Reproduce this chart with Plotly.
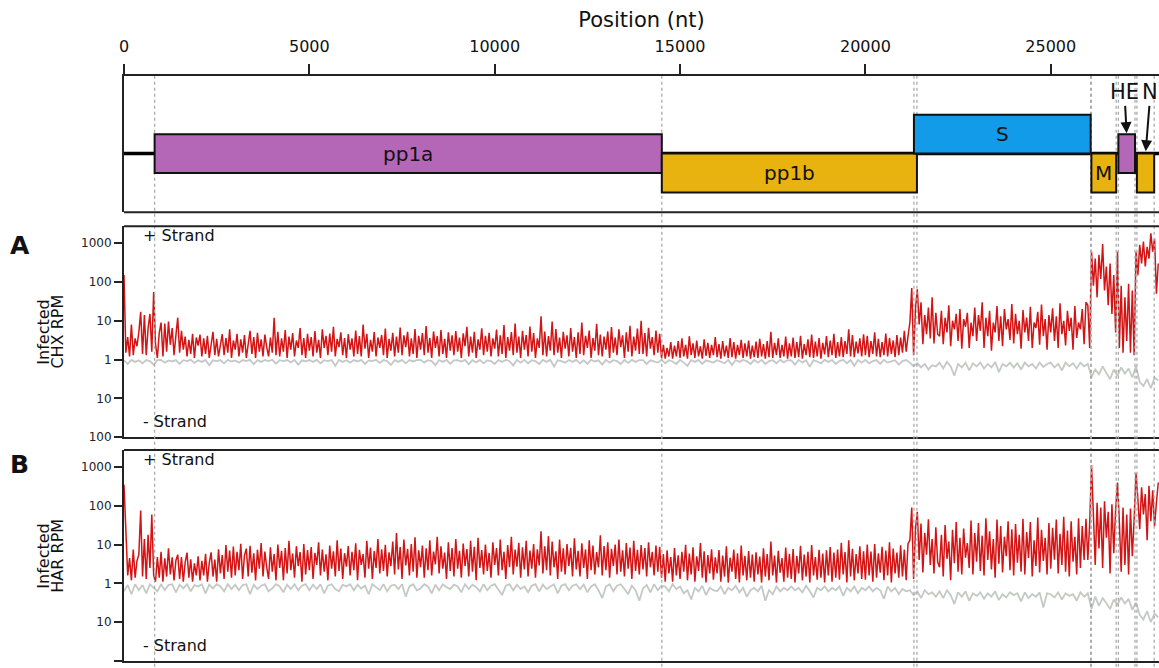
import numpy as np
import plotly.graph_objects as go

# ---------------- data ----------------
x_max = 27920            # visible genome range (nt)
bin_red = 50             # nt per + strand sample
bin_grey = 100           # nt per - strand sample

gene_names = ["pp1a", "pp1b", "S", "M", "HE", "N"]
gene_start = [826, 14508, 21309, 26096, 26824, 27324]
gene_end = [14508, 21390, 26077, 26765, 27272, 27790]
gene_colors = ["#b567b7", "#e9b30f", "#129be9", "#e9b30f", "#b567b7", "#e9b30f"]

pos_ticks = [0, 5000, 10000, 15000, 20000, 25000]
pos_ticktext = ["0", "5000", "10000", "15000", "20000", "25000"]
rpm_tickvals = [3, 2, 1, 0, -1, -2]
rpm_ticktext = ["1000", "100", "10", "1", "10", "100"]

# Panel A: Infected CHX, + strand RPM (50 nt bins)
chx_plus = [
    150, 1.5, 3.8, 1.2, 8, 1.3, 3.5, 2.2, 5, 17, 1.4, 14, 1.3, 6.5, 15, 1.6, 55, 2.5, 1.1, 4.8,
    9, 1.2, 8.5, 1.6, 9.5, 2.4, 6.5, 1.3, 4.2, 12, 1.5, 5.5, 1.8, 3.9, 1.2, 3.2, 1.4, 4.6, 1.1, 3.7,
    2.3, 4.4, 1.2, 3.5, 1.4, 4.1, 1.1, 2.8, 5.2, 1.3, 3.4, 1.2, 2.6, 4.5, 1.3, 3.6, 1.5, 6, 1.1, 3.1,
    1.8, 4.6, 1.2, 3.3, 1.5, 4.3, 1.1, 2.7, 5.5, 1.4, 3.8, 1.1, 4.9, 1.6, 3.3, 1.2, 4.4, 2.1, 1.2, 3.7,
    1.5, 12, 1.3, 5.2, 1.2, 3.5, 1.6, 5.8, 1.1, 3.9, 1.8, 4.8, 1.2, 3.1, 2, 6.5, 1.3, 3.6, 1.1, 4.6,
    1.7, 3.8, 1.2, 5.4, 1.5, 3.2, 1.1, 6, 2, 4.1, 1.3, 4.7, 1.6, 7, 1.2, 3.4, 2.1, 5, 1.3, 3.6,
    1.1, 4.5, 1.8, 3.5, 1.2, 5.6, 1.4, 4, 1.2, 8, 1.9, 4.6, 1.1, 3.2, 1.6, 5.1, 1.2, 3.7, 2, 4.3,
    1.3, 6.3, 1.1, 3.4, 1.7, 4.9, 1.2, 3.9, 1.5, 6.7, 1.3, 4.2, 2.1, 5.2, 1.2, 3.5, 1.4, 6.1, 1.1, 4.1,
    1.8, 4.8, 1.3, 7.3, 1.5, 3.6, 1.1, 5.3, 2, 4, 1.2, 5.8, 1.4, 3.4, 1.1, 5, 1.7, 4.2, 1.3, 5.4,
    1.6, 3.7, 1.1, 4.7, 2.2, 7, 1.2, 3.9, 1.5, 5.2, 1.1, 3.3, 1.8, 6.4, 1.3, 4.1, 1.6, 4.9, 1.2, 3.5,
    1.9, 5.9, 1.2, 4.2, 1.4, 7.8, 1.1, 3.8, 1.7, 5.1, 1.3, 8.5, 1.5, 3.9, 1.1, 5.5, 1.8, 4.3, 1.2, 7.1,
    1.6, 4.8, 1.1, 3.5, 2, 13, 1.3, 5.3, 1.2, 4, 1.7, 9.5, 1.3, 6.1, 1.5, 3.7, 1.1, 5.2, 1.9, 4.2,
    1.2, 6.5, 1.6, 3.8, 1.1, 5, 1.4, 9, 1.3, 4.1, 2, 5.6, 1.1, 3.6, 1.7, 8.3, 1.3, 4.4, 1.2, 3.9,
    1.8, 5.3, 1.1, 6.9, 1.5, 3.7, 1.3, 6, 2.1, 4.2, 1.1, 5, 1.6, 7.4, 1.2, 3.9, 1.7, 6.3, 1.4, 10,
    1.4, 4.8, 1.2, 6.6, 1.9, 3.8, 1.3, 5.6, 1.5, 4.6, 1.1, 2.4, 1.05, 2, 1.2, 2.8, 1.05, 2.3, 1.2, 3,
    1.1, 3.5, 1.2, 2.4, 1.05, 4, 1.3, 2.6, 1.1, 3.1, 1.2, 2.2, 1.05, 3.3, 1.25, 2.7, 1.1, 2.4, 1.3, 3.8,
    1.15, 2.5, 1.05, 3, 1.2, 2.3, 1.1, 3.6, 1.15, 2.8, 1.05, 2.4, 1.3, 3.2, 1.1, 2.6, 1.2, 3.1, 1.05, 2.3,
    1.15, 2.9, 1.1, 3.4, 1.2, 2.5, 1.05, 3, 1.15, 5.2, 1.1, 2.7, 1.3, 3.5, 1.1, 2.4, 1.2, 3.9, 1.05, 2.6,
    1.2, 3.7, 1.1, 2.8, 1.15, 4.1, 1.05, 2.5, 1.3, 3.3, 1.15, 4.4, 1.1, 2.9, 1.2, 3.6, 1.05, 2.7, 1.35, 4,
    1.15, 3.1, 1.3, 4.6, 1.1, 2.8, 1.2, 3.8, 1.15, 3, 1.4, 6, 1.2, 4.3, 1.15, 2.9, 1.45, 3.5, 1.2, 4.5,
    1.3, 4.1, 1.15, 3, 1.4, 5, 1.2, 3.4, 1.15, 2.8, 1.3, 4.7, 1.2, 3.6, 1.4, 3.1, 1.15, 4.3, 1.3, 3.7,
    1.5, 5.5, 1.6, 4, 9, 70, 1.3, 20, 65, 8, 30, 2.5, 14, 4.5, 22, 3.5, 40, 2.6, 16, 4.5,
    4, 18, 2.5, 12, 5, 25, 2.2, 10, 6, 15, 3, 20, 1.9, 11, 7, 16, 2, 9, 4, 22,
    3, 14, 5.5, 30, 2, 12, 4, 18, 1.7, 9, 5, 24, 3, 13, 2.2, 20, 6, 11, 3.2, 27,
    2.6, 15, 4.5, 10, 1.9, 19, 5, 12, 3, 23, 2, 9, 6.5, 17, 2.4, 26, 4, 11, 1.8, 14,
    5, 21, 3, 13, 2, 28, 4.5, 10, 2.3, 18, 5.5, 12, 1.8, 24, 3.6, 9, 6, 20, 2.5, 30,
    25, 2, 600, 80, 400, 40, 500, 120, 950, 60, 250, 25, 300, 15, 150, 5, 600, 2, 80, 1.5,
    40, 3, 90, 1.5, 60, 1.3, 600, 150, 900, 300, 1100, 250, 800, 400, 1800, 600, 1300, 50, 300,
]

# Panel A: Infected CHX, - strand RPM (100 nt bins)
chx_minus = [
    1.05, 1.3, 1.02, 1.15, 1.04, 1.25, 1.03, 1.1, 1.35, 1.04,
    1.02, 1.2, 1.05, 1.12, 1.03, 1.3, 1.04, 1.1, 1.02, 1.22,
    1.04, 1.15, 1.02, 1.4, 1.05, 1.1, 1.03, 1.25, 1.02, 1.12,
    1.05, 1.2, 1.03, 1.1, 1.02, 1.32, 1.04, 1.15, 1.03, 1.1,
    1.02, 1.28, 1.04, 1.1, 1.03, 1.18, 1.02, 1.35, 1.05, 1.12,
    1.03, 1.15, 1.02, 1.25, 1.04, 1.1, 1.03, 1.45, 1.02, 1.15,
    1.04, 1.2, 1.03, 1.12, 1.02, 1.3, 1.05, 1.1, 1.02, 1.22,
    1.03, 1.1, 1.38, 1.04, 1.15, 1.02, 1.25, 1.03, 1.12, 1.04,
    1.02, 1.2, 1.04, 1.1, 1.4, 1.03, 1.15, 1.02, 1.28, 1.05,
    1.03, 1.12, 1.02, 1.33, 1.04, 1.18, 1.02, 1.25, 1.05, 1.1,
    1.3, 1.03, 1.15, 1.02, 1.1, 1.42, 1.03, 1.2, 1.02, 1.25,
    1.04, 1.1, 1.3, 1.02, 1.15, 1.03, 1.5, 1.05, 1.1, 1.2,
    1.03, 1.15, 1.02, 1.25, 1.04, 1.3, 1.02, 1.12, 1.05, 1.35,
    1.02, 1.2, 1.04, 1.1, 1.3, 1.03, 1.22, 1.02, 1.15, 1.04,
    1.03, 1.3, 1.05, 1.1, 1.2, 1.02, 1.25, 1.04, 1.12, 1.3,
    1.02, 1.2, 1.45, 1.03, 1.15, 1.02, 1.3, 1.05, 1.1, 1.2,
    1.04, 1.12, 1.25, 1.02, 1.38, 1.03, 1.15, 1.02, 1.1, 1.3,
    1.03, 1.2, 1.02, 1.3, 1.1, 1.04, 1.25, 1.02, 1.18, 1.03,
    1.05, 1.35, 1.02, 1.2, 1.04, 1.55, 1.03, 1.12, 1.25, 1.02,
    1.15, 1.03, 1.3, 1.1, 1.02, 1.25, 1.04, 1.45, 1.03, 1.2,
    1.02, 1.25, 1.1, 1.03, 1.3, 1.02, 1.2, 1.12, 1.04, 1.35,
    1.1, 1.03, 1.2, 1.5, 1.25, 1.6, 1.3, 1.8, 1.4, 1.5,
    1.2, 1.7, 1.15, 1.5, 2.6, 1.3, 1.6, 1.2, 1.9, 1.25,
    1.5, 1.2, 1.7, 1.3, 1.6, 1.15, 2.1, 1.3, 1.5, 1.2,
    1.6, 1.25, 1.8, 1.2, 1.5, 1.3, 1.7, 1.2, 1.55, 1.3,
    1.2, 1.6, 1.3, 1.9, 1.2, 1.5, 1.25, 1.7, 1.2, 1.5,
    1.3, 2.8, 1.8, 2.4, 1.5, 2.2, 3.2, 1.8, 2.6, 1.6,
    2.3, 1.7, 2.9, 1.5, 3.8, 4.8, 3.2, 5.5, 2.9, 3.5,
]

# Panel B: Infected HAR, + strand RPM (50 nt bins)
har_plus = [
    350, 23, 1.6, 4.5, 1.2, 7.5, 1.4, 3.8, 5.5, 75, 1.5, 14, 1.3, 18, 2.5, 60, 1.6, 1.1, 4.8, 1.4,
    6.5, 1.1, 4.4, 1.5, 8, 1.7, 4.7, 1.2, 3.9, 5.5, 1.3, 4.8, 1.1, 3.5, 6.2, 1.4, 4.2, 1.1, 3.3, 1.6,
    5, 1.2, 3.8, 1.6, 5.8, 1.1, 3.4, 6.3, 1.5, 4.1, 1.1, 7.6, 1.8, 5.4, 1.3, 9.8, 2, 7, 1.4, 8.9,
    1.6, 6.5, 2.2, 10.5, 1.3, 5.3, 7.9, 1.5, 9.3, 1.9, 6, 1.2, 7.4, 2.4, 11, 1.5, 6.6, 2.6, 1.3, 8.5,
    2, 5.7, 1.2, 10, 2.5, 6.9, 1.2, 8.1, 1.8, 12.5, 2.2, 5.9, 1.4, 9.1, 2.8, 6.4, 1.1, 10.3, 1.7, 7.2,
    2.2, 8.7, 1.3, 6.1, 3, 11.5, 1.6, 7.5, 2, 5.6, 1.2, 9.5, 2.4, 6.7, 1.5, 13, 2.1, 7.9, 1.3, 6,
    2.7, 9.2, 1.6, 6.5, 2.2, 10.8, 1.2, 7.3, 3, 5.7, 1.4, 12.5, 2.4, 8.4, 1.3, 6.8, 2.5, 14, 1.8, 7.6,
    2.1, 9.9, 1.5, 6.3, 2.8, 12, 1.7, 20, 2.3, 8.6, 1.3, 13.5, 2.9, 7.8, 1.6, 10.4, 2, 15.5, 1.4, 7.1,
    2.6, 9.4, 1.4, 8, 2.2, 13, 1.6, 6.6, 3.1, 16, 1.8, 9, 2.4, 6.2, 1.3, 11.5, 2.1, 8.2, 1.5, 14,
    2.4, 6.9, 1.4, 10.6, 2.8, 7.7, 1.5, 12.5, 2, 8.8, 1.2, 15, 2.5, 7.2, 1.7, 10, 2.1, 6.1, 1.4, 11.5,
    3, 8.1, 1.6, 13.5, 2.2, 6.5, 1.3, 9.8, 2.6, 16, 1.7, 7.4, 2.7, 11.2, 1.4, 8.5, 2.3, 12.5, 1.5, 7,
    2.4, 10.3, 1.4, 7.6, 2.9, 22, 1.8, 9, 2.2, 16.5, 1.6, 12, 2.6, 6.7, 1.3, 13.5, 2, 8, 1.7, 10.4,
    2.8, 8.3, 1.5, 14.5, 2.3, 6.9, 1.5, 10.8, 2.5, 7.5, 1.3, 13, 2.2, 9.4, 1.7, 6.4, 2.6, 17.5, 1.6, 9.2,
    2.2, 11.5, 1.4, 7.8, 2.8, 10, 1.7, 13.5, 2, 7.1, 1.5, 10.9, 2.4, 8.4, 1.3, 12.5, 2.1, 7.3, 1.7, 9.7,
    2.3, 8.1, 1.5, 11.5, 2.6, 6.5, 1.6, 9.4, 2, 8.8, 1.4, 5.7, 1.1, 7.1, 1.8, 4.8, 1.1, 8.2, 1.6, 5.3,
    1.3, 6.5, 2, 9.9, 1.2, 5.9, 1.7, 8.5, 1.1, 5, 2.1, 10.9, 1.4, 6.7, 1.05, 5.4, 1.8, 7.6, 1.25, 4.7,
    1.8, 7.2, 1.1, 5.2, 1.5, 9, 1.05, 4.6, 2, 7.4, 1.3, 6, 1.05, 9.4, 1.6, 5.1, 1.2, 6.8, 1.4, 5.5,
    1.1, 6.3, 1.7, 4.9, 1.05, 8, 1.5, 5.7, 1.2, 12, 1.6, 5.2, 1.05, 6.9, 1.9, 4.5, 1.1, 8.4, 1.4, 5.8,
    1.3, 7.7, 1.05, 5.1, 1.8, 9.3, 1.2, 5.5, 1.5, 6.5, 1.05, 9.8, 1.6, 4.8, 1.25, 7.3, 1.4, 5.9, 1.05, 7.1,
    1.6, 8.6, 1.1, 6.2, 1.4, 7.5, 1.25, 11.2, 1.7, 6.4, 1.05, 13, 1.5, 7.8, 1.2, 5.7, 1.8, 9.1, 1.3, 6.7,
    1.25, 10, 1.6, 6.6, 1.1, 10.4, 1.4, 6, 1.9, 8.8, 1.2, 7, 1.6, 11.5, 1.05, 7.9, 1.8, 6.2, 1.4, 9.6,
    1.5, 7.4, 1.2, 10.6, 13, 90, 1.3, 25, 70, 4, 35, 1.9, 20, 5.5, 45, 3, 14, 1.8, 28, 3.5,
    2.6, 18, 1.5, 32, 4.3, 12, 1.2, 24, 3.3, 38, 2, 15, 1.7, 26, 4.6, 11, 2.5, 42, 1.7, 20,
    3.6, 36, 2.1, 17, 1.6, 48, 4, 22, 2.3, 14, 1.4, 44, 3.2, 30, 1.9, 16, 5, 40, 2.2, 25,
    1.6, 34, 3.4, 18, 2, 46, 1.7, 21, 4.5, 38, 1.5, 13, 2.8, 50, 1.9, 24, 3.8, 15, 1.7, 36,
    2.4, 27, 4.1, 44, 1.8, 19, 3, 52, 2, 23, 1.5, 40, 3.6, 16, 1.7, 48, 2.5, 30, 4, 46,
    4, 35, 1100, 60, 3, 120, 8, 90, 2.5, 130, 15, 70, 1.8, 110, 6, 80, 400, 40, 2, 90,
    3, 60, 1.7, 85, 5, 45, 700, 150, 25, 300, 60, 200, 13, 330, 40, 250, 30, 120, 400,
]

# Panel B: Infected HAR, - strand RPM (100 nt bins)
har_minus = [
    1.6, 1.1, 1.9, 1.05, 1.5, 1.1, 1.8, 1.05, 1.3, 1.6,
    1.05, 1.5, 1.1, 1.05, 1.7, 1.08, 1.35, 1.05, 1.6, 1.1,
    1.2, 1.05, 1.8, 1.08, 1.35, 1.05, 1.2, 1.6, 1.05, 1.4,
    1.08, 1.5, 1.1, 1.05, 1.9, 1.08, 1.4, 1.15, 1.05, 1.6,
    1.35, 1.05, 1.2, 1.7, 1.08, 1.4, 1.05, 1.5, 1.15, 1.05,
    1.5, 1.08, 1.4, 1.05, 1.8, 1.15, 1.05, 1.4, 1.6, 1.08,
    1.2, 1.05, 1.5, 1.08, 1.35, 1.15, 1.9, 1.05, 1.25, 1.5,
    1.05, 1.6, 1.15, 1.08, 1.4, 1.05, 2.2, 1.2, 1.05, 1.5,
    1.35, 1.05, 1.2, 1.8, 1.08, 1.5, 1.05, 1.25, 1.4, 1.08,
    1.2, 1.7, 1.05, 1.4, 1.08, 1.25, 1.6, 1.05, 1.5, 1.15,
    1.05, 1.4, 2.0, 1.15, 1.05, 1.5, 1.08, 1.4, 1.2, 1.7,
    1.15, 1.05, 1.6, 1.08, 1.4, 1.2, 1.05, 1.8, 1.15, 1.05,
    1.5, 1.15, 1.05, 1.4, 1.08, 1.7, 1.2, 1.05, 1.5, 2.4,
    1.2, 1.05, 1.6, 1.15, 1.05, 1.4, 1.9, 1.15, 1.5, 2.8,
    1.35, 1.1, 1.7, 1.05, 1.5, 1.15, 1.2, 1.6, 1.05, 1.4,
    1.2, 1.8, 1.5, 2.6, 1.3, 1.6, 1.15, 2.0, 1.3, 1.5,
    1.6, 1.2, 1.9, 1.3, 1.5, 1.15, 1.7, 1.3, 2.2, 1.5,
    1.3, 1.6, 1.15, 2.8, 1.5, 1.9, 1.2, 1.6, 1.3, 1.5,
    1.2, 1.5, 1.3, 1.7, 1.15, 1.6, 2.3, 1.3, 1.5, 1.2,
    1.6, 1.3, 1.5, 1.2, 2.1, 1.3, 1.6, 1.2, 1.8, 1.3,
    1.5, 1.2, 1.6, 1.3, 1.5, 2.5, 1.2, 1.6, 1.3, 1.9,
    1.4, 1.6, 1.5, 2.0, 1.6, 2.4, 1.5, 1.9, 1.7, 2.2,
    1.6, 2.4, 1.5, 2.0, 3.4, 1.7, 2.2, 1.6, 2.8, 1.8,
    2.1, 1.7, 2.5, 1.8, 2.2, 1.6, 2.7, 1.9, 2.3, 1.7,
    2.0, 1.8, 2.9, 1.7, 2.4, 1.9, 2.2, 1.7, 4.2, 1.8,
    1.9, 2.3, 1.7, 2.6, 1.8, 2.1, 1.9, 2.8, 1.7, 2.2,
    1.8, 4.5, 2.2, 3.8, 2.4, 3.2, 4.6, 2.6, 3.5, 2.3,
    3.3, 2.5, 4.8, 3.1, 6.5, 8.5, 5.2, 10, 6.0, 7.5,
]

# ---------------- styling / layout ----------------
FONT = "DejaVu Sans"
RED = "#d41414"
GREY = "#c3c9c5"
EDGE = "#222222"

row_of = {"pp1a": 0, "pp1b": -1, "S": 1, "M": -1, "HE": 0, "N": -1}
base = 0.431
half = 0.1425

fig = go.Figure()

def positions(vals, step):
    return np.arange(len(vals)) * step

panels = [("x2", "y2", chx_plus, chx_minus), ("x3", "y3", har_plus, har_minus)]
for xa, ya, plus, minus in panels:
    fig.add_trace(go.Scatter(x=positions(minus, bin_grey), y=-np.log10(np.array(minus, float)),
                             mode="lines", line=dict(color=GREY, width=1.8),
                             xaxis=xa, yaxis=ya, hoverinfo="skip", showlegend=False))
    fig.add_trace(go.Scatter(x=positions(plus, bin_red), y=np.log10(np.array(plus, float)),
                             mode="lines", line=dict(color=RED, width=1.5),
                             xaxis=xa, yaxis=ya, hoverinfo="skip", showlegend=False))

# genome backbone line
fig.add_trace(go.Scatter(x=[0, x_max], y=[base, base], mode="lines",
                         line=dict(color="black", width=3.5), xaxis="x", yaxis="y",
                         hoverinfo="skip", showlegend=False))

shapes = []
bounds = sorted(set(gene_start + gene_end))
for b in bounds:
    shapes.append(dict(type="line", xref="x", yref="paper", x0=b, x1=b, y0=-0.02, y1=1.0,
                       line=dict(color="#ababab", width=1.3, dash="dot"), layer="above"))

for name, s, e, c in zip(gene_names, gene_start, gene_end, gene_colors):
    r = row_of[name]
    if r == 0:
        y0, y1 = base - half, base + half
    elif r == 1:
        y0, y1 = base, base + 2 * half
    else:
        y0, y1 = base - 2 * half, base
    shapes.append(dict(type="rect", xref="x", yref="y", x0=s, x1=e, y0=y0, y1=y1,
                       fillcolor=c, line=dict(color="#111111", width=2), layer="above"))

shapes.append(dict(type="line", xref="x domain", yref="y domain", x0=0, x1=1, y0=0, y1=0,
                   line=dict(color=EDGE, width=2)))
shapes.append(dict(type="line", xref="x2 domain", yref="y2 domain", x0=0, x1=1, y0=1, y1=1,
                   line=dict(color=EDGE, width=2)))
shapes.append(dict(type="line", xref="x3 domain", yref="y3 domain", x0=0, x1=1, y0=1, y1=1,
                   line=dict(color=EDGE, width=2)))

annotations = []
for name, s, e in zip(gene_names, gene_start, gene_end):
    r = row_of[name]
    yc = base if r == 0 else (base + half if r == 1 else base - half)
    if name in ("HE", "N"):
        continue
    annotations.append(dict(x=(s + e) / 2, y=yc, xref="x", yref="y", text=name, showarrow=False,
                            font=dict(family=FONT, size=20, color="#111111")))

he_i = gene_names.index("HE")
he_mid = (gene_start[he_i] + gene_end[he_i]) / 2
annotations.append(dict(x=he_mid, y=base + half, xref="x", yref="y",
                        ax=he_mid - 60, ay=0.88, axref="x", ayref="y",
                        text="HE", showarrow=True, arrowhead=2, arrowsize=1.1, arrowwidth=2,
                        arrowcolor="#111111", standoff=1,
                        font=dict(family=FONT, size=21, color="#111111")))
annotations.append(dict(x=27560, y=base + 0.01, xref="x", yref="y",
                        ax=27690, ay=0.88, axref="x", ayref="y",
                        text="N", showarrow=True, arrowhead=2, arrowsize=1.1, arrowwidth=2,
                        arrowcolor="#111111", standoff=1,
                        font=dict(family=FONT, size=21, color="#111111")))

for ya, yc, letter, ylab in [("y2", 0.711, "A", "CHX RPM"), ("y3", 0.3367, "B", "HAR RPM")]:
    xa = "x2" if ya == "y2" else "x3"
    annotations.append(dict(x=0.0165, y=3.205, xref=f"{xa} domain", yref=ya, text="+ Strand",
                            showarrow=False, xanchor="left", yanchor="middle",
                            font=dict(family=FONT, size=16, color="#111111")))
    annotations.append(dict(x=0.0165, y=-1.59, xref=f"{xa} domain", yref=ya, text="- Strand",
                            showarrow=False, xanchor="left", yanchor="middle",
                            font=dict(family=FONT, size=16, color="#111111")))
    annotations.append(dict(x=-0.1005, y=yc, xref="paper", yref="paper", text=f"<b>{letter}</b>",
                            showarrow=False, xanchor="center", yanchor="middle",
                            font=dict(family=FONT, size=25, color="#111111")))
    ymid = 0.563 if ya == "y2" else 0.180
    annotations.append(dict(x=-0.0773, y=ymid, xref="paper", yref="paper", text="Infected",
                            textangle=-90, showarrow=False, xanchor="center", yanchor="middle",
                            font=dict(family=FONT, size=16, color="#111111")))
    annotations.append(dict(x=-0.0638, y=ymid, xref="paper", yref="paper", text=ylab,
                            textangle=-90, showarrow=False, xanchor="center", yanchor="middle",
                            font=dict(family=FONT, size=16, color="#111111")))

rpm_axis = dict(range=[-2, 3.436], tickvals=rpm_tickvals, ticktext=rpm_ticktext,
                ticks="outside", ticklen=8, tickwidth=2, tickcolor=EDGE,
                showline=True, linewidth=2, linecolor=EDGE, showgrid=False, zeroline=False,
                tickfont=dict(family=FONT, size=12, color="#222222"), fixedrange=True)
hidden_x = dict(range=[0, x_max], showline=True, linewidth=2, linecolor=EDGE,
                showticklabels=False, ticks="", showgrid=False, zeroline=False)

fig.update_layout(
    width=1159, height=668,
    margin=dict(l=124, r=0, t=76, b=4),
    paper_bgcolor="white", plot_bgcolor="white",
    font=dict(family=FONT, color="#111111"),
    xaxis=dict(range=[0, x_max], side="top", anchor="y", tickvals=pos_ticks, ticktext=pos_ticktext,
               ticks="outside", ticklen=10, tickwidth=2, tickcolor=EDGE, ticklabelstandoff=6,
               showline=True, linewidth=2, linecolor=EDGE, showgrid=False, zeroline=False,
               tickfont=dict(family=FONT, size=16, color="#111111"),
               title=dict(text="Position (nt)", font=dict(family=FONT, size=21, color="#111111"),
                          standoff=3)),
    yaxis=dict(domain=[0.76701, 1.0], range=[0, 1], showline=True, linewidth=2, linecolor=EDGE,
               showticklabels=False, ticks="", showgrid=False, zeroline=False),
    xaxis2=dict(anchor="y2", **hidden_x),
    yaxis2=dict(domain=[0.38265, 0.74320], anchor="x2", **rpm_axis),
    xaxis3=dict(anchor="y3", **hidden_x),
    yaxis3=dict(domain=[0.0, 0.36054], anchor="x3", **rpm_axis),
    shapes=shapes,
    annotations=annotations,
    showlegend=False,
)

fig.write_html("out.html", config={"displayModeBar": False},
               post_script="document.body.style.margin='0px';document.body.style.overflow='hidden';")
